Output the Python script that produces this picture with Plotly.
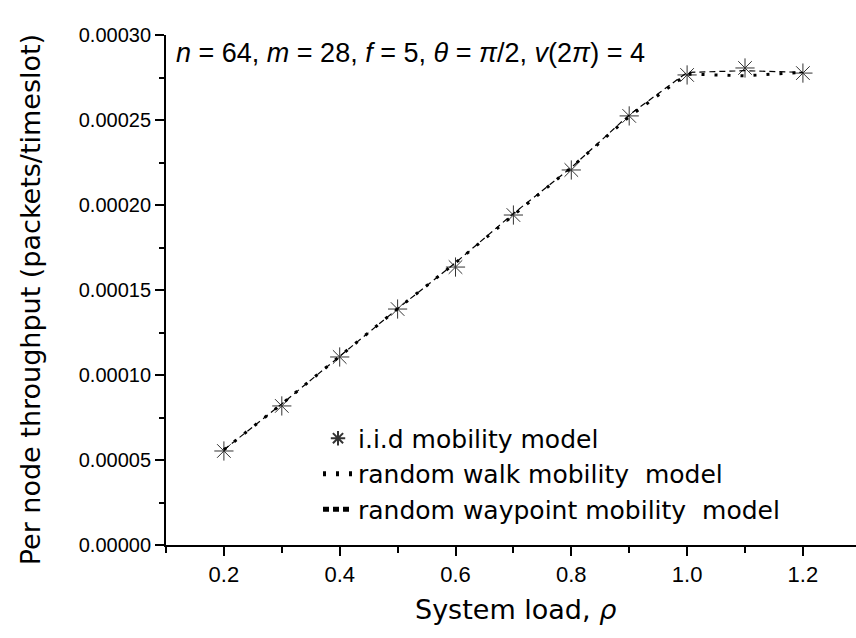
import plotly.graph_objects as go

load = [0.2, 0.3, 0.4, 0.5, 0.6, 0.7, 0.8, 0.9, 1.0, 1.1, 1.2]
iid = [0.0000553, 0.0000818, 0.0001106, 0.0001388, 0.0001635, 0.0001941,
       0.0002206, 0.0002524, 0.0002765, 0.0002806, 0.0002776]
random_walk = [0.0000560, 0.0000830, 0.0001110, 0.0001390, 0.0001660, 0.0001940,
               0.0002220, 0.0002520, 0.0002770, 0.0002760, 0.0002780]
random_waypoint = [0.0000560, 0.0000830, 0.0001110, 0.0001390, 0.0001660, 0.0001950,
                   0.0002220, 0.0002530, 0.0002780, 0.0002790, 0.0002780]

names = ["i.i.d mobility model", "random walk mobility  model", "random waypoint mobility  model"]
y_ticks = [0, 0.00005, 0.0001, 0.00015, 0.0002, 0.00025, 0.0003]
y_tick_text = ["0.00000", "0.00005", "0.00010", "0.00015", "0.00020", "0.00025", "0.00030"]
x_ticks = [0.2, 0.4, 0.6, 0.8, 1.0, 1.2]
x_tick_text = ["0.2", "0.4", "0.6", "0.8", "1.0", "1.2"]

fig = go.Figure()
fig.add_trace(go.Scatter(
    x=load, y=iid, mode="markers", name=names[0],
    marker=dict(symbol="asterisk-open", size=16, color="#333333",
                line=dict(width=1, color="#333333"))))
fig.add_trace(go.Scatter(
    x=load, y=random_walk, mode="lines", name=names[1],
    line=dict(dash="3px,10px", width=3, color="black")))
fig.add_trace(go.Scatter(
    x=load, y=random_waypoint, mode="lines", name=names[2],
    line=dict(dash="6px,4px", width=1.2, color="black")))

fig.update_layout(
    width=856, height=638,
    margin=dict(l=166, r=0, t=35, b=93),
    paper_bgcolor="white", plot_bgcolor="white",
    font=dict(family="Liberation Sans, Arial, sans-serif", color="black"),
    showlegend=True,
    legend=dict(x=0.2203, y=0.254, xanchor="left", yanchor="top",
                bgcolor="rgba(0,0,0,0)", font=dict(size=25, family="DejaVu Sans"),
                tracegroupgap=0, itemsizing="constant"),
    xaxis=dict(range=[0.1, 1.2917], tickvals=x_ticks, ticktext=x_tick_text,
               showgrid=False, zeroline=False, showline=True, linecolor="black", linewidth=2,
               ticks="outside", ticklen=9, tickwidth=2, tickcolor="black",
               tickfont=dict(size=22, family="Liberation Sans, Arial"),
               minor=dict(dtick=0.1, tick0=0.1, ticks="outside", ticklen=6, tickwidth=2, tickcolor="black")),
    yaxis=dict(range=[0, 0.0003], tickvals=y_ticks, ticktext=y_tick_text,
               showgrid=False, zeroline=False, showline=True, linecolor="black", linewidth=2,
               ticks="outside", ticklen=9, tickwidth=2, tickcolor="black",
               tickfont=dict(size=20),
               minor=dict(dtick=0.000025, tick0=0, ticks="outside", ticklen=5, tickwidth=2, tickcolor="black")),
)

fig.add_annotation(
    x=0.506, y=-0.127, xref="paper", yref="paper", xanchor="center", yanchor="middle",
    text="System load, <i>ρ</i>", showarrow=False,
    font=dict(size=27, family="DejaVu Sans"))
fig.add_annotation(
    x=-0.197, y=0.48, xref="paper", yref="paper", xanchor="center", yanchor="middle",
    text="Per node throughput (packets/timeslot)", textangle=-90, showarrow=False,
    font=dict(size=27, family="DejaVu Sans"))

fig.add_annotation(
    x=0.0116, y=1.0, xref="paper", yref="paper", xanchor="left", yanchor="top",
    yshift=-1,
    text="<i>n</i> = 64, <i>m</i> = 28, <i>f</i> = 5, <i>θ</i> = <i>π</i>/2, <i>v</i>(2<i>π</i>) = 4",
    showarrow=False, font=dict(size=27, family="Liberation Sans, Arial"))

fig.write_html("out.html")
